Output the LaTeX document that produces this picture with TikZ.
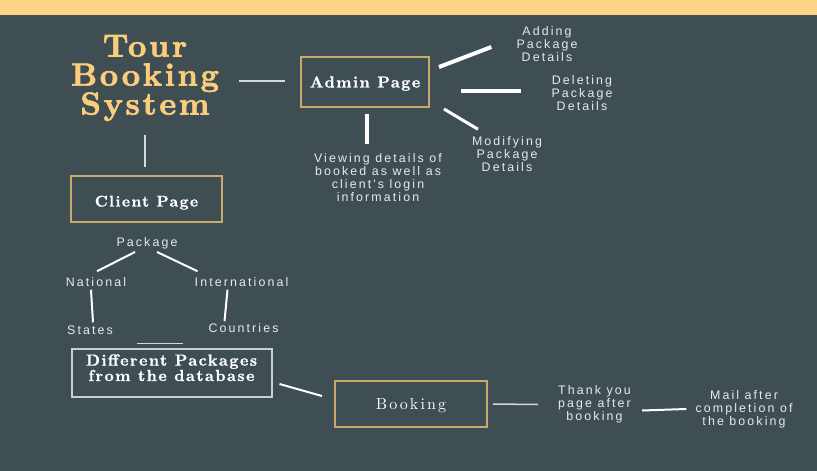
\documentclass[tikz,border=0pt]{standalone}
\usepackage{fontspec}
\usetikzlibrary{calc}
\newfontfamily\headfont{lmroman10-bold}[Extension=.otf, LetterSpace=8, FakeBold=2]
\newfontfamily\boxboldfont{lmroman10-bold}[Extension=.otf, LetterSpace=9, FakeBold=1]
\newfontfamily\boxfont{lmroman10-regular}[Extension=.otf, LetterSpace=13]
\newfontfamily\labelfont{Liberation Sans}[LetterSpace=17]
\definecolor{bg}{HTML}{3E4E53}
\definecolor{band}{HTML}{FFD386}
\definecolor{gold}{HTML}{FACD7C}
\definecolor{frame}{HTML}{C9A96C}
\definecolor{paleframe}{HTML}{C7D1D4}
\definecolor{txt}{HTML}{E8EAEA}
\definecolor{thin}{HTML}{D3DADC}
% place a box's text with its baseline a given distance below the box centre
\newcommand{\sitbelow}[2]{\raisebox{-#1}[0pt][0pt]{#2}}
\tikzset{
  pagebox/.style={draw=frame, line width=2pt, inner sep=0pt, text=white},
  lbl/.style={text=txt, align=center, inner sep=0pt,
    font=\labelfont\fontsize{12.4}{13}\selectfont},
  link/.style={draw=white, line width=2pt},
  heavylink/.style={draw=white, line width=4pt},
  thinlink/.style={draw=thin, line width=1.5pt},
}
\begin{document}
\begin{tikzpicture}[x=1pt, y=-1pt]
  % canvas and top band
  \fill[bg] (0,0) rectangle (817,471);
  \fill[band] (0,0) rectangle (817,15);
  \useasboundingbox (0,0) rectangle (817,471);

  % title
  \node[text=gold, align=center, inner sep=0pt, text width=150pt,
        font=\headfont\fontsize{32}{29}\selectfont] (title) at (145,78)
        {Tour\\Booking\\System};

  % page boxes
  \node[pagebox, minimum width=128pt, minimum height=50pt,
        font=\boxboldfont\fontsize{16}{18}\selectfont] (admin) at (365,82)
        {\sitbelow{5.5pt}{Admin Page}};
  \node[pagebox, minimum width=151pt, minimum height=46pt,
        font=\boxboldfont\fontsize{15.5}{18}\selectfont] (client) at (146.5,199)
        {\sitbelow{7.5pt}{Client Page}};
  \node[pagebox, draw=paleframe, minimum width=200pt, minimum height=48pt,
        font=\boxboldfont\fontsize{16}{14}\selectfont] (packs) at (171.5,372.5)
        {\sitbelow{8.5pt}{\begin{tabular}[b]{@{}c@{}}Different Packages\\from the database\end{tabular}}};
  \node[pagebox, minimum width=152pt, minimum height=46pt,
        font=\boxfont\fontsize{16}{18}\selectfont] (booking) at (411,404)
        {\sitbelow{5pt}{Booking}};

  % admin actions
  \node[lbl] (adding) at (547,44) {Adding\\Package\\Details};
  \node[lbl] (deleting) at (582,93) {Deleting\\Package\\Details};
  \node[lbl] (modifying) at (507,154) {Modifying\\Package\\Details};
  \node[lbl] (viewing) at (378,178) {Viewing details of\\booked as well as\\client's login\\information};

  % package tree
  \node[lbl] (package) at (147,243) {Package};
  \node[lbl] (national) at (96,282) {National};
  \node[lbl] (intl) at (241.5,282) {International};
  \node[lbl] (states) at (90,330) {States};
  \node[lbl] (countries) at (243.5,328) {Countries};

  % after booking
  \node[lbl] (thanks) at (594.5,404.5) {Thank you\\page after\\booking};
  \node[lbl] (mail) at (744,409) {Mail after\\completion of\\the booking};

  % connectors
  \draw[thinlink] ($(title.east)+(19,3)$) -- ($(admin.west)+(-15,-1)$);
  \draw[thinlink] ($(client.north)+(-1.5,-40)$) -- ($(client.north)+(-1.5,-8)$);
  \draw[heavylink] ($(admin.north east)+(9,11)$) -- ($(adding.west)+(-25,3)$);
  \draw[heavylink] ($(admin.east)+(31,9)$) -- ($(deleting.west)+(-30,-2)$);
  \draw[link, line width=3pt] ($(admin.south east)+(14,1)$) -- ($(modifying.north)+(-29,-7)$);
  \draw[heavylink] ($(admin.south)+(2,6)$) -- ($(viewing.north)+(-11,-10)$);

  \draw[link] ($(package.south)+(-12,3)$) -- ($(national.north)+(1,-6)$);
  \draw[link] ($(package.south)+(10,3)$) -- ($(intl.north west)+(3,-6)$);
  \draw[link] ($(national.south)+(-5,3)$) -- ($(states.north)+(3,-3)$);
  \draw[link] ($(intl.south)+(-14,3)$) -- ($(countries.north)+(-19,-2)$);
  \draw[thinlink] ($(packs.north)+(-34.5,-4)$) -- ($(packs.north)+(11.5,-4)$);

  \draw[link] ($(packs.east)+(7,11.5)$) -- ($(booking.west)+(-12,-8)$);
  \draw[thinlink] ($(booking.east)+(5,0)$) -- ($(thanks.west)+(-20,0)$);
  \draw[link] ($(thanks.east)+(11,6)$) -- ($(mail.west)+(-9,0)$);
\end{tikzpicture}
\end{document}
